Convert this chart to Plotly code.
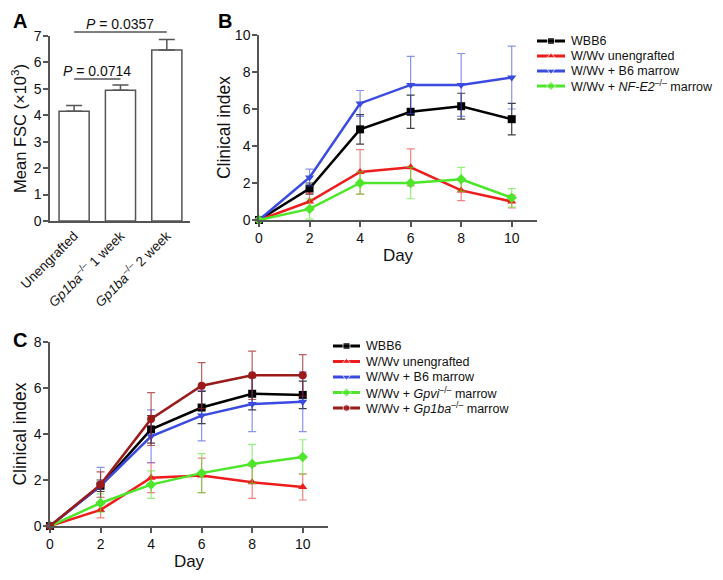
import plotly.graph_objects as go

FONT = "Liberation Sans, Arial, Helvetica, sans-serif"
AXC = "#555555"

# ---------- Panel A data ----------
a_labels = ["Unengrafted", "<i>Gp1ba</i><sup>–/–</sup> 1 week", "<i>Gp1ba</i><sup>–/–</sup> 2 week"]
a_values = [4.15, 4.95, 6.47]
a_errors = [0.22, 0.20, 0.40]
a_pvalues = ["<i>P</i> = 0.0714", "<i>P</i> = 0.0357"]
a_pairs = [(0, 1), (0, 2)]
a_pheights = [5.37, 7.15]

# ---------- Panel B data ----------
days = [0, 2, 4, 6, 8, 10]
b_names = ["WBB6", "W/Wv unengrafted", "W/Wv + B6 marrow",
           "W/Wv + <i>NF-E2</i><sup>–/–</sup> marrow"]
b_values = [
    [0, 1.7, 4.9, 5.85, 6.15, 5.45],
    [0, 1.0, 2.6, 2.85, 1.6, 1.0],
    [0, 2.3, 6.3, 7.3, 7.3, 7.7],
    [0, 0.6, 2.0, 2.0, 2.2, 1.2],
]
b_errors = [
    [0, 0.3, 0.8, 0.9, 0.7, 0.85],
    [0, 0.45, 1.2, 1.0, 0.55, 0.35],
    [0, 0.45, 0.7, 1.55, 1.7, 1.7],
    [0, 0.55, 0.6, 0.85, 0.65, 0.5],
]

# ---------- Panel C data ----------
c_names = ["WBB6", "W/Wv unengrafted", "W/Wv + B6 marrow",
           "W/Wv + <i>Gpvi</i><sup>–/–</sup> marrow",
           "W/Wv + <i>Gp1ba</i><sup>–/–</sup> marrow"]
c_values = [
    [0, 1.75, 4.2, 5.15, 5.75, 5.7],
    [0, 0.7, 2.1, 2.2, 1.9, 1.7],
    [0, 1.75, 3.9, 4.8, 5.3, 5.4],
    [0, 1.0, 1.8, 2.3, 2.7, 3.0],
    [0, 1.8, 4.65, 6.1, 6.55, 6.55],
]
c_errors = [
    [0, 0.25, 0.6, 0.7, 0.7, 0.6],
    [0, 0.35, 0.65, 0.75, 0.7, 0.57],
    [0, 0.8, 1.15, 1.1, 1.2, 1.3],
    [0, 0.4, 0.6, 0.85, 0.85, 0.75],
    [0, 0.55, 1.15, 1.0, 1.05, 0.9],
]

colors = ["#000000", "#ee1c1c", "#3b4ae0", "#4ee62a", "#9b1b1b"]
err_colors = ["rgba(0,0,0,0.75)", "rgba(238,28,28,0.55)", "rgba(59,74,224,0.6)",
              "rgba(78,230,42,0.6)", "rgba(155,27,27,0.7)"]
symbols = ["square", "triangle-up", "triangle-down", "diamond", "circle"]

# page body has an 8px margin; size the figure to fill the 723x580 window
OFF = 8
W, H = 723 - 2 * OFF, 580 - 2 * OFF
def fx(px): return (px - OFF) / W
def fy(py): return 1 - (py - OFF) / H

fig = go.Figure()

# Panel A bars
fig.add_trace(go.Bar(
    x=list(range(len(a_values))), y=a_values, width=0.65,
    marker=dict(color="white", line=dict(color=AXC, width=1.5)),
    error_y=dict(type="data", array=a_errors, arrayminus=[0] * 3, symmetric=False,
                 color=AXC, thickness=1.5, width=8),
    xaxis="x", yaxis="y", showlegend=False))

# Panel B lines
for i in range(len(b_names)):
    fig.add_trace(go.Scatter(
        x=days, y=b_values[i], name=b_names[i], mode="lines+markers",
        line=dict(color=colors[i], width=2.5),
        marker=dict(symbol=symbols[i], size=8, color=colors[i]),
        error_y=dict(type="data", array=b_errors[i], color=err_colors[i], thickness=1.2, width=4),
        xaxis="x2", yaxis="y2", showlegend=False, cliponaxis=False))

# Panel C lines
for i in range(len(c_names)):
    fig.add_trace(go.Scatter(
        x=days, y=c_values[i], name=c_names[i], mode="lines+markers",
        line=dict(color=colors[i], width=2.5),
        marker=dict(symbol=symbols[i], size=8, color=colors[i]),
        error_y=dict(type="data", array=c_errors[i], color=err_colors[i], thickness=1.2, width=4),
        xaxis="x3", yaxis="y3", showlegend=False, cliponaxis=False))

# Compact legends (key samples on hidden helper axes)
def add_key(names, xa, ya):
    for i, nm in enumerate(names):
        fig.add_trace(go.Scatter(
            x=[0, 0.5, 1], y=[i, i, i], mode="lines+markers",
            line=dict(color=colors[i], width=3),
            marker=dict(symbol=symbols[i], size=[0, 7, 0], color=colors[i]),
            xaxis=xa, yaxis=ya, showlegend=False, hoverinfo="skip", cliponaxis=False))
        fig.add_annotation(xref=xa, yref=ya, x=1, y=i, text=nm, showarrow=False,
                           xanchor="left", yanchor="middle", xshift=4,
                           font=dict(size=12.5, color="#111"))

add_key(b_names, "x4", "y4")
add_key(c_names, "x5", "y5")

axis_common = dict(showline=True, linecolor=AXC, linewidth=1.5, ticks="outside",
                   ticklen=5, tickwidth=1.5, tickcolor=AXC, showgrid=False, zeroline=False,
                   automargin=False, ticklabelstandoff=-1, tickfont=dict(size=14, color="#111"))
hidden = dict(visible=False, showgrid=False, zeroline=False, automargin=False, fixedrange=True)

a_range = [-0.52, 2.5]
b_row0, b_step = 41, 15
c_row0, c_step = 346, 15.5
fig.update_layout(
    template="none",
    width=W, height=H, margin=dict(l=0, r=0, t=0, b=0, pad=0), autosize=False,
    paper_bgcolor="white", plot_bgcolor="rgba(0,0,0,0)",
    font=dict(family=FONT, color="#111"),
    showlegend=False,
    xaxis=dict(domain=[fx(50), fx(190)], range=a_range, tickvals=[0, 1, 2],
               ticktext=a_labels, tickangle=-45, anchor="y",
               **{**axis_common, "ticks": "", "ticklabelstandoff": 0,
                  "tickfont": dict(size=13.5, color="#111")}),
    yaxis=dict(domain=[fy(221), fy(36)], range=[0, 7], dtick=1, anchor="x",
               title=dict(text="Mean FSC (×10<sup>3</sup>)", font=dict(size=16.5), standoff=3),
               **axis_common),
    xaxis2=dict(domain=[fx(259), fx(537)], range=[0, 11], tickvals=days, anchor="y2",
                title=dict(text="Day", font=dict(size=17), standoff=0), **axis_common),
    yaxis2=dict(domain=[fy(220), fy(35)], range=[0, 10], dtick=2, anchor="x2",
                title=dict(text="Clinical index", font=dict(size=17.5), standoff=0), **axis_common),
    xaxis3=dict(domain=[fx(50), fx(328)], range=[0, 11], tickvals=days, anchor="y3",
                title=dict(text="Day", font=dict(size=17), standoff=0), **axis_common),
    yaxis3=dict(domain=[fy(526), fy(342)], range=[0, 8], dtick=2, anchor="x3",
                title=dict(text="Clinical index", font=dict(size=17.5), standoff=3), **axis_common),
    xaxis4=dict(domain=[fx(537), fx(565)], range=[0, 1], anchor="y4", **hidden),
    yaxis4=dict(domain=[fy(b_row0 + b_step * (len(b_names) - 0.5)), fy(b_row0 - b_step / 2)],
                range=[len(b_names) - 0.5, -0.5], anchor="x4", **hidden),
    xaxis5=dict(domain=[fx(333), fx(360)], range=[0, 1], anchor="y5", **hidden),
    yaxis5=dict(domain=[fy(c_row0 + c_step * (len(c_names) - 0.5)), fy(c_row0 - c_step / 2)],
                range=[len(c_names) - 0.5, -0.5], anchor="x5", **hidden),
    bargap=0.3,
)

# P-value comparison lines in panel A
span = a_range[1] - a_range[0]
for (i0, i1), txt, h in zip(a_pairs, a_pvalues, a_pheights):
    x0 = (i0 - a_range[0]) / span
    x1 = (i1 - a_range[0]) / span
    yy = h / 7
    fig.add_shape(type="line", xref="x domain", yref="y domain", x0=x0, x1=x1, y0=yy, y1=yy,
                  line=dict(color=AXC, width=1.5))
    fig.add_annotation(xref="x domain", yref="y domain", x=(x0 + x1) / 2, y=yy,
                       text=txt, showarrow=False, xanchor="center", yanchor="bottom", yshift=-2,
                       font=dict(size=14, color="#111"))

# Panel labels
for lab, px, py in [("A", 20, 21), ("B", 225, 21), ("C", 19.5, 340)]:
    fig.add_annotation(xref="paper", yref="paper", x=fx(px), y=fy(py), text=f"<b>{lab}</b>",
                       showarrow=False, xanchor="center", yanchor="middle",
                       font=dict(size=20, color="#000"))

fig.write_html("out.html")
